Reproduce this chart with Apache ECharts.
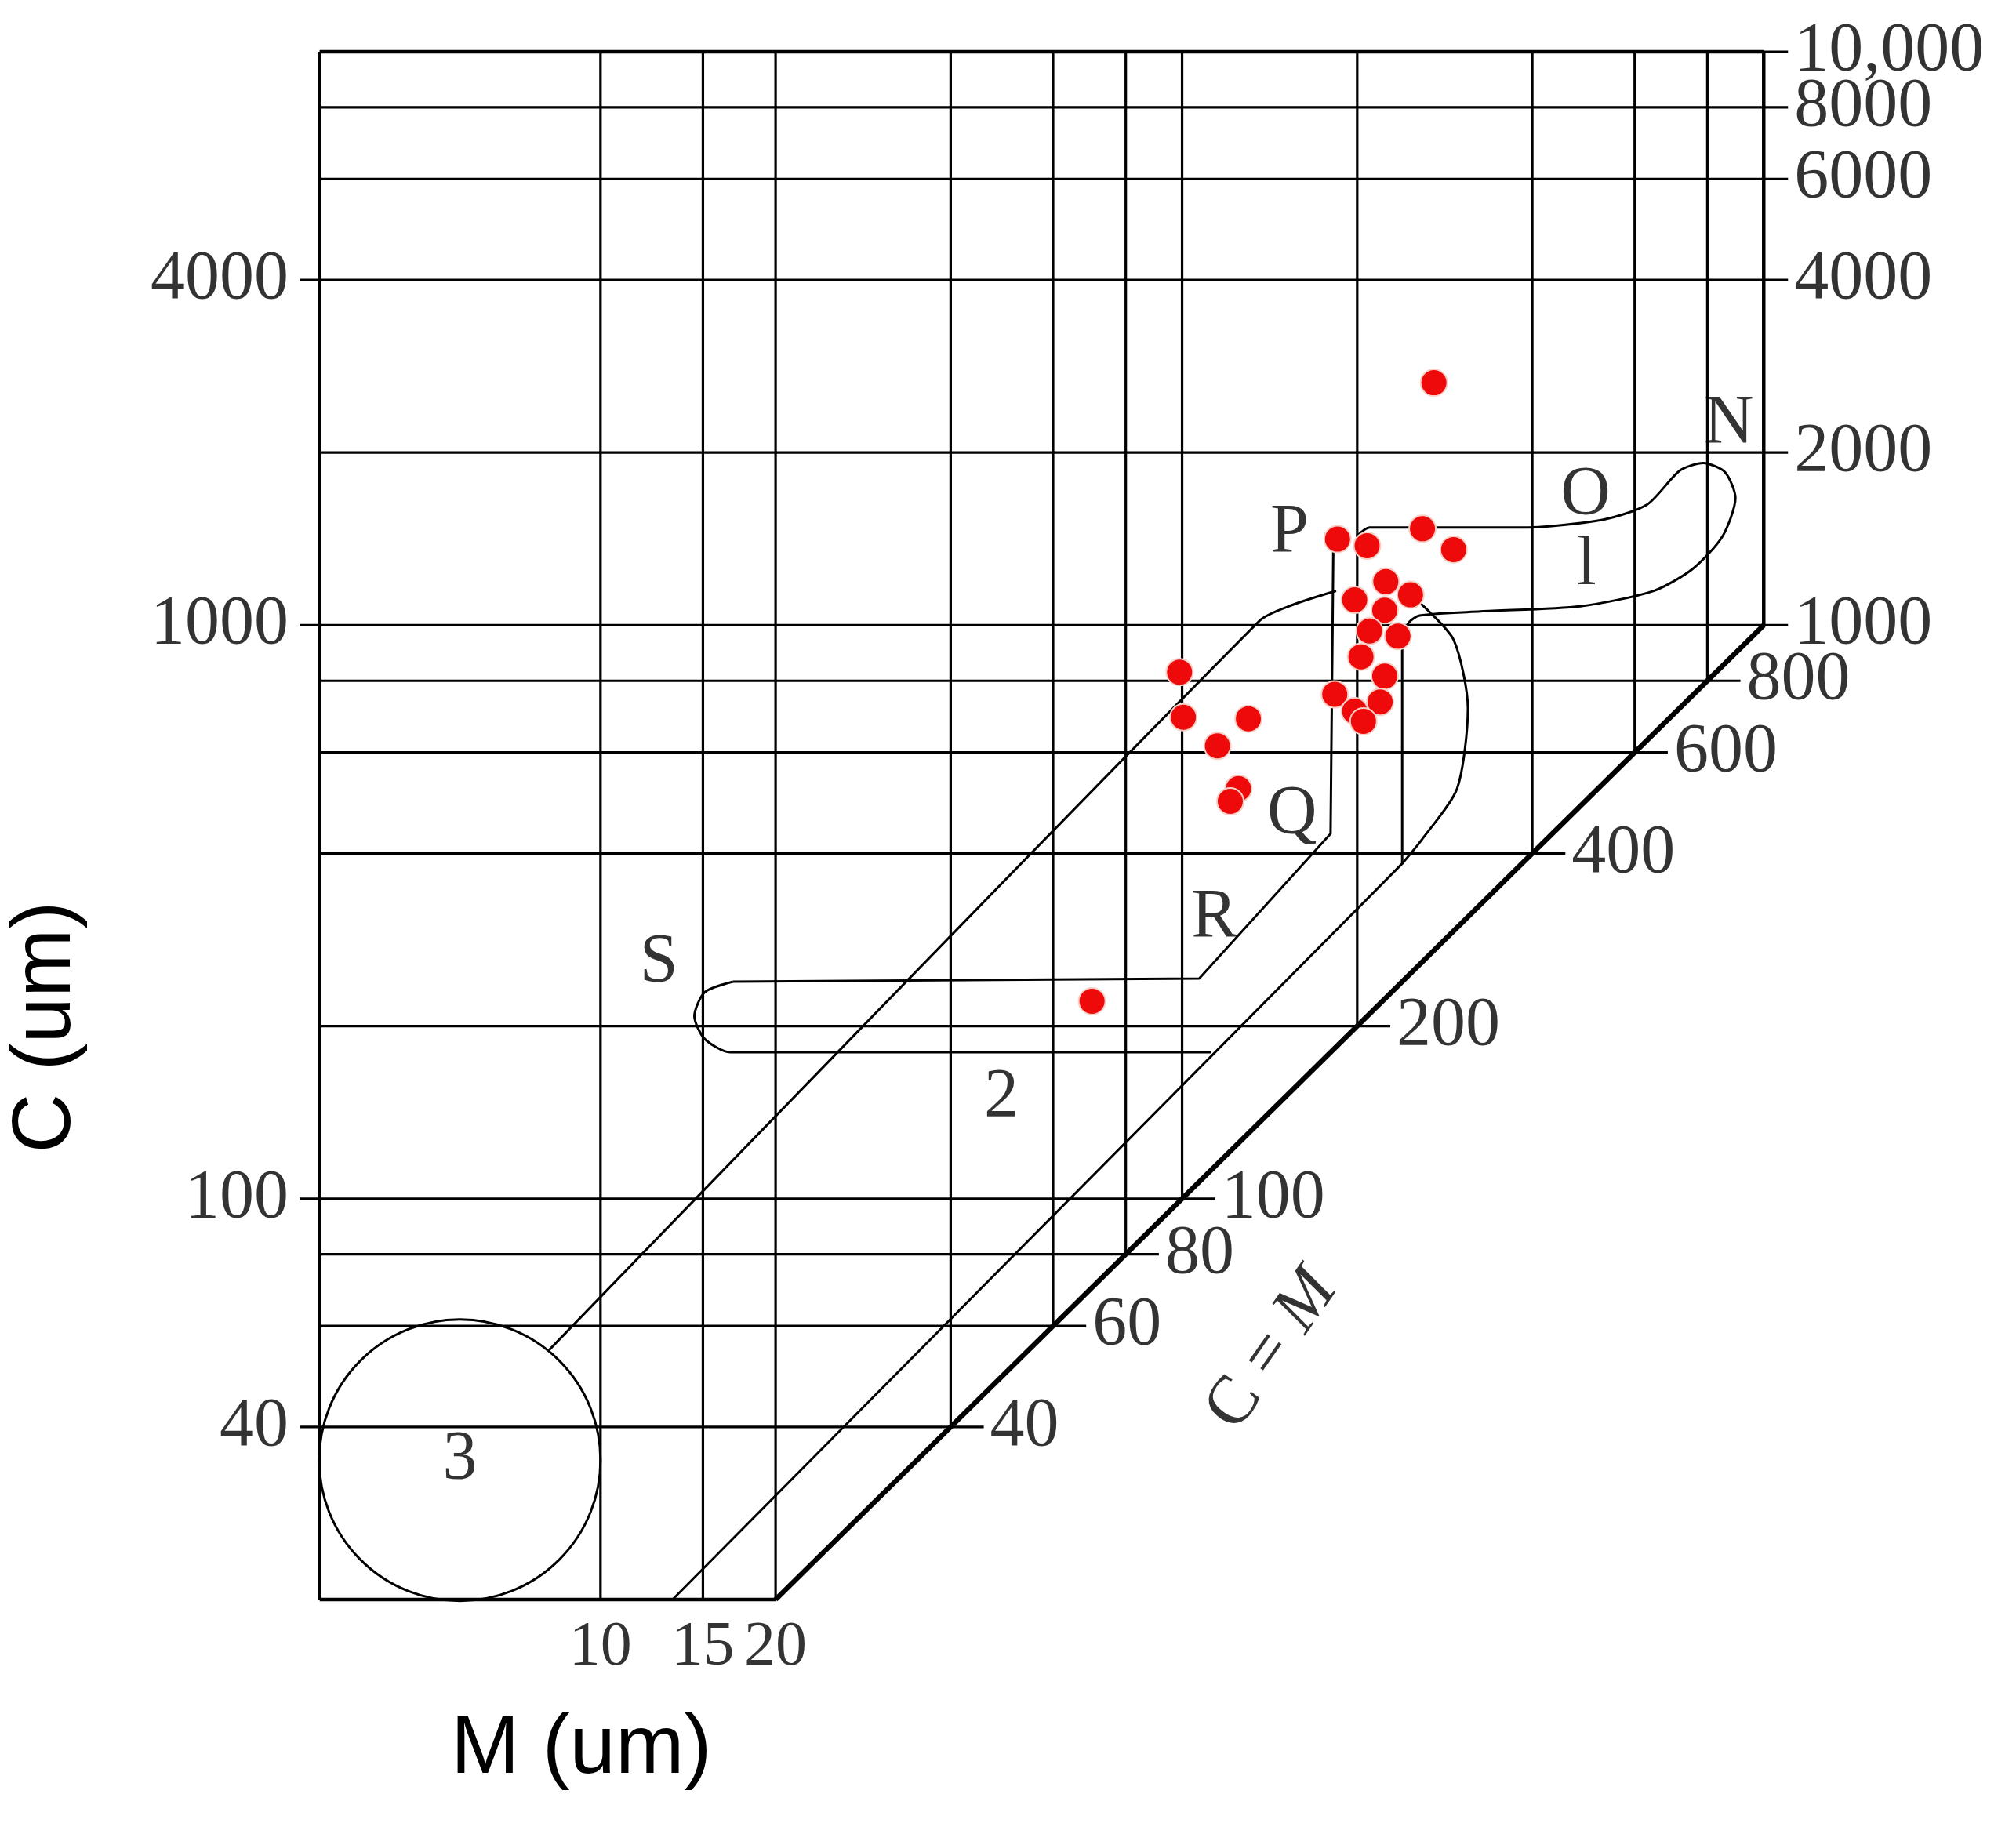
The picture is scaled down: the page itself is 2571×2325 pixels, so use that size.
<!DOCTYPE html>
<html>
<head>
<meta charset="utf-8">
<script src="https://cdn.jsdelivr.net/npm/echarts@6/dist/echarts.min.js"></script>
<style>html,body{margin:0;background:#fff}#chart{width:2571px;height:2325px}</style>
</head>
<body>
<div id="chart"></div>
<script>
// grid values (um)
var vLines = [10, 15, 20, 40, 60, 80, 100, 200, 400, 600, 800];
var hLines = [10000, 8000, 6000, 4000, 2000, 1000, 800, 600, 400, 200, 100, 80, 60, 40];
var leftTicks = [4000, 1000, 100, 40];
var rightTicks = [10000, 8000, 6000, 4000, 2000, 1000];
var rightLabels = ['10,000', '8000', '6000', '4000', '2000', '1000'];
var diagTicks = [800, 600, 400, 200, 100, 80, 60, 40];
var bottomTicks = [10, 15, 20];
var xLeft = 3.29, xMin = 3, xMax = 1200, yMin = 20, yMax = 10000;

// sample points [M, C]
var samples = [
  [271, 2648], [185, 1413], [208, 1376], [259, 1473], [293, 1355], [224, 1191],
  [247, 1130], [198, 1107], [223, 1062], [210, 977], [235, 957], [203, 881],
  [223, 815], [183, 758], [219, 735], [198, 708], [205, 680], [99, 828],
  [100.5, 691], [130, 687], [115, 616], [125, 519], [121, 493], [70, 221]
];

// field outlines [M, C]
var field1Outline = [
  [199.5, 1428], [210, 1480], [382, 1480], [528, 1527], [631, 1625], [717, 1860],
  [787, 1918], [858, 1849], [894, 1667], [849, 1428], [755, 1254], [647, 1148],
  [484, 1079], [326, 1057], [256, 1040], [245, 1009], [239, 943], [239, 384], [13.3, 20]
];
var field1Arc = [[256, 1096], [293, 943], [310, 716], [297, 519], [258, 422], [239, 384]];
var longLine = [[8.15, 54.4], [136, 1019], [154.5, 1084], [184, 1148]];
var field2Outline = [
  [182, 1390], [180, 433], [107, 242], [16.9, 239], [15.1, 229], [14.5, 208],
  [15.1, 190], [16.7, 180], [112, 180]
];
var circleCenter = [5.73, 35.0], circleEdgeM = 10;

var letters = [
  ['N', 871, 2240], ['O', 494, 1685], ['l', 496, 1267], ['P', 153, 1449],
  ['Q', 154.5, 468], ['R', 113.6, 309], ['S', 12.6, 258], ['2', 48.9, 150], ['3', 5.73, 35.0]
];

var serif = 'Liberation Serif';
var series = [];
function seg(data, w) {
  series.push({type: 'line', data: data, symbol: 'none', silent: true, clip: false,
    lineStyle: {color: '#000', width: w || 3.2}, z: 2});
}
function curve(data) {
  series.push({type: 'line', data: data, symbol: 'none', smooth: 0.25, silent: true,
    lineStyle: {color: '#000', width: 3}, z: 3});
}
function textAt(data, pos, extra) {
  series.push({type: 'scatter', data: data, symbolSize: 0, silent: true, z: 5,
    label: Object.assign({show: true, position: pos, color: '#000', fontFamily: serif, fontSize: 88,
      formatter: function (p) { return p.data[2]; }}, extra || {})});
}

// frame
seg([[xLeft, yMin], [xLeft, yMax]], 4.5);
seg([[xLeft, yMax], [1000, yMax]], 4.5);
seg([[1000, yMax], [1000, 1000]], 4.5);
seg([[xLeft, yMin], [20, yMin]], 4.5);
seg([[20, 20], [1000, 1000]], 6.5);
// grid
vLines.forEach(function (m) { seg([[m, Math.max(m, yMin)], [m, yMax]]); });
hLines.forEach(function (c) {
  var x0 = leftTicks.indexOf(c) >= 0 ? 3.04 : xLeft;
  var x1 = c >= 1000 ? 1101 : c * 1.14;
  seg([[x0, c], [x1, c]]);
});
// fields
seg(field1Outline.slice(16), 3);
curve(field1Outline.slice(0, 17));
curve(field1Arc);
curve(longLine);
seg(field2Outline.slice(0, 4), 3);
curve(field2Outline.slice(3));
series.push({type: 'custom', silent: true, z: 3, data: [circleCenter],
  renderItem: function (params, api) {
    var c = api.coord([api.value(0), api.value(1)]);
    var e = api.coord([circleEdgeM, api.value(1)]);
    return {type: 'circle', shape: {cx: c[0], cy: c[1], r: e[0] - c[0]},
      style: {fill: 'none', stroke: '#000', lineWidth: 3}};
  }});
// samples
series.push({type: 'scatter', data: samples, symbolSize: 34, z: 6,
  itemStyle: {color: '#ee0a0a', opacity: 1, borderColor: '#f7d0c8', borderWidth: 2}});
// tick labels
textAt(leftTicks.map(function (c) { return [3.0, c, String(c)]; }), 'left', {distance: 10});
textAt(rightTicks.map(function (c, i) { return [1101, c, rightLabels[i]]; }), 'right', {distance: 8});
textAt(diagTicks.map(function (c) { return [c * 1.14, c, String(c)]; }), 'right', {distance: 8});
textAt(bottomTicks.map(function (m) { return [m, 20, String(m)]; }), 'bottom', {distance: 22, fontSize: 80});
textAt(letters.map(function (l) { return [l[1], l[2], l[0]]; }), 'inside');
textAt([[143, 54.4, 'C = M']], 'inside', {rotate: 55, formatter: '{a|C = }{b|M}'});
series[series.length - 1].label.rich = {
  a: {fontFamily: serif, fontSize: 88, color: '#000'},
  b: {fontFamily: serif, fontSize: 88, fontStyle: 'italic', color: '#000'}
};

var chart = echarts.init(document.getElementById('chart'));
chart.setOption({
  backgroundColor: '#fff',
  animation: false,
  grid: {left: 378, top: 66, width: 1930, height: 1974},
  xAxis: {type: 'log', logBase: 10, min: xMin, max: xMax, show: false},
  yAxis: {type: 'log', logBase: 10, min: yMin, max: yMax, show: false},
  graphic: [
    {type: 'text', left: 575, top: 2180, style: {text: 'M (um)', font: '105px "Liberation Sans"', fill: '#000'}},
    {type: 'text', x: 60, y: 1310, rotation: Math.PI / 2,
      style: {text: 'C (um)', font: '105px "Liberation Sans"', fill: '#000', align: 'center', verticalAlign: 'middle'}}
  ],
  series: series
});
</script>
</body>
</html>
